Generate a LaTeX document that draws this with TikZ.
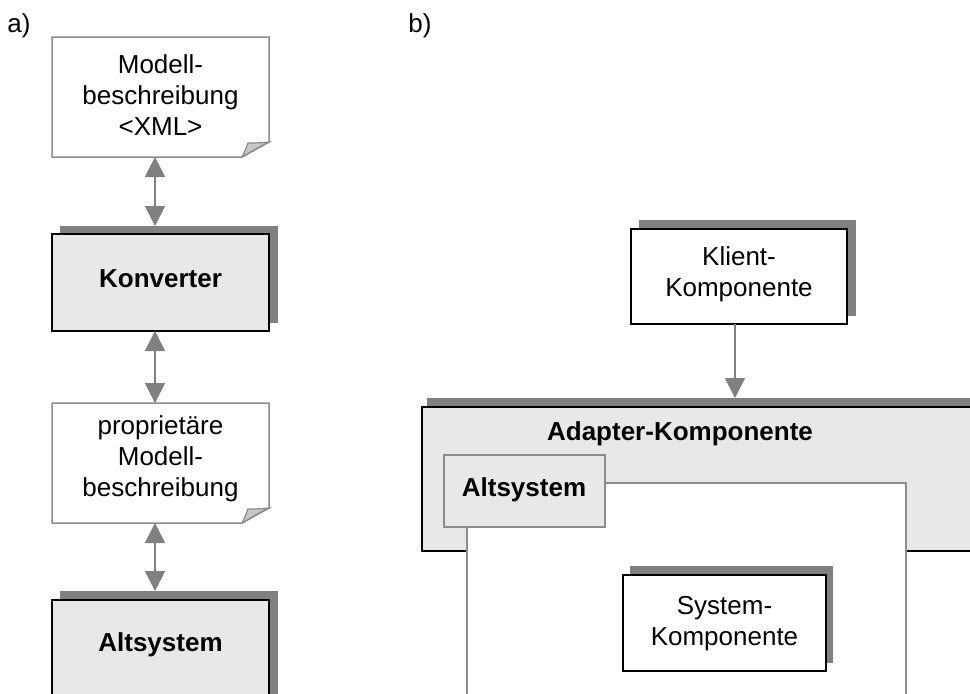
\documentclass[tikz,border=0pt]{standalone}
\usepackage{fontspec}
\setmainfont{Liberation Sans}
\usetikzlibrary{arrows.meta}
\definecolor{shade}{HTML}{808080}
\definecolor{panel}{HTML}{E8E8E8}
\definecolor{foldgray}{HTML}{C8C8C8}
\definecolor{edge}{HTML}{8C8C8C}
\tikzset{
  txt/.style={font=\fontsize{13pt}{15.5pt}\selectfont, align=center, inner sep=0pt},
  boldtxt/.style={txt, font=\fontsize{13pt}{15.5pt}\selectfont\bfseries},
  blackbox/.style={draw=black, line width=0.9pt},
  shadowbox/.style={fill=shade, draw=none},
  docedge/.style={draw=edge, line width=0.75pt, fill=white},
  conn/.style={draw=shade, line width=0.9pt, -{Triangle[length=10pt,width=10pt]}},
  biconn/.style={draw=shade, line width=0.9pt, {Triangle[length=10pt,width=10pt]}-{Triangle[length=10pt,width=10pt]}},
}
% folded document sheet: corners x1,y1 (top left) x2,y2 (bottom right)
\newcommand{\docsheet}[4]{%
  \path[docedge] (#1,#2) -- (#3,#2) -- (#3,#4-15) -- (#3-27,#4) -- (#1,#4) -- cycle;
  \path[draw=edge, line width=0.6pt, fill=foldgray] (#3-27,#4) .. controls (#3-24,#4-6) .. (#3-21,#4-14)
     .. controls (#3-12,#4-14) .. (#3,#4-15) .. controls (#3-12,#4-9) .. (#3-27,#4);
}
\begin{document}
\begin{tikzpicture}[x=0.5pt, y=-0.5pt]
\clip (0,0) rectangle (970,693);
\fill[white] (0,0) rectangle (970,693);

% ---------- a) ----------
\node[txt, anchor=center] (la) at (19,26) {a)};

\docsheet{52}{37}{269}{157}
\node[txt] (xml) at (160.5,95) {Modell-\\beschreibung\\<XML>};
\coordinate (xmlbot) at (155,157);

\fill[shadowbox] (60,226) rectangle (278,323);
\path[blackbox, fill=panel] (52,234) rectangle (269,331);
\node[boldtxt] (konv) at (160.5,279) {Konverter};
\coordinate (konvtop) at (155,226);
\coordinate (konvbot) at (155,331);

\docsheet{52}{403}{269}{523}
\begin{scope}
  \clip (52,403) rectangle (269,502);
  \node[txt] (prop) at (160.5,459) {propriet\"are\\Modell-\\beschreibung};
\end{scope}
\coordinate (proptop) at (155,403);
\coordinate (propbot) at (155,523);

\fill[shadowbox] (60,591) rectangle (278,700);
\path[blackbox, fill=panel] (52,600) rectangle (269,710);
\node[boldtxt] (alt) at (160.5,645) {Altsystem};
\coordinate (alttop) at (155,591);

\draw[biconn] (xmlbot) -- (konvtop);
\draw[biconn] (konvbot) -- (proptop);
\draw[biconn] (propbot) -- (alttop);

% ---------- b) ----------
\node[txt, anchor=center] (lb) at (420,26) {b)};

\fill[shadowbox] (639,220) rectangle (856,316);
\path[blackbox, fill=white] (631,229) rectangle (847,324);
\node[txt] (klient) at (739,274) {Klient-\\Komponente};
\coordinate (klientbot) at (735,324);

\fill[shadowbox] (427,398) rectangle (990,543);
\path[blackbox, fill=panel] (422,407) rectangle (990,551);
\node[boldtxt] (adapter) at (680,434) {Adapter-Komponente};
\coordinate (adaptertop) at (735,398);

\path[draw=edge, line width=0.75pt, fill=white] (467,710) -- (467,483) -- (906,483) -- (906,710);
\path[draw=edge, line width=0.75pt, fill=panel] (444,455) rectangle (605,527);
\node[boldtxt] (altb) at (524,490) {Altsystem};

\fill[shadowbox] (630,566) rectangle (833,663);
\path[blackbox, fill=white] (623,575) rectangle (826,671);
\node[txt] (syskomp) at (724.5,624) {System-\\Komponente};

\draw[conn] (klientbot) -- (adaptertop);
\end{tikzpicture}
\end{document}
